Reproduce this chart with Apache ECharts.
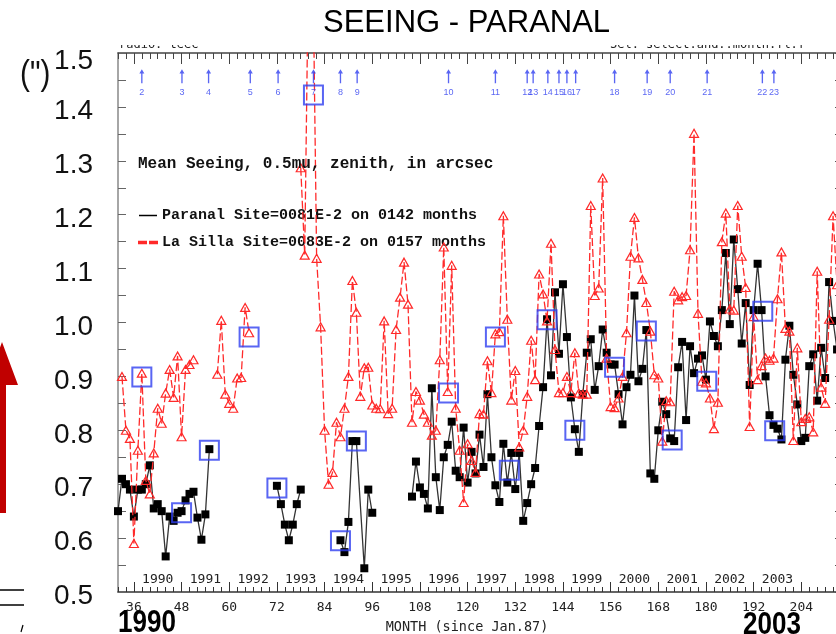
<!DOCTYPE html>
<html>
<head>
<meta charset="utf-8">
<script src="https://cdn.jsdelivr.net/npm/echarts@6/dist/echarts.min.js"></script>
<style>
html,body{margin:0;padding:0;background:#fff;}
#chart{width:836px;height:634px;}
</style>
</head>
<body>
<div id="chart"></div>
<script>
// Monthly mean seeing (arcsec), month counted from Jan. 1987; null = no data that month
const paranalMonths = [
  32,33,34,35,36,37,38,39,40,41,42,43,44,45,46,47,48,49,50,51,52,53,54,55,
  63,
  72,73,74,75,76,77,78,
  83,
  88,89,90,91,92,94,95,96,
  100,
  106,107,108,109,110,111,112,113,114,115,116,117,118,119,120,121,122,123,124,125,
  126,127,128,129,130,131,132,133,134,135,136,137,138,139,140,141,142,143,144,145,
  146,147,148,149,150,151,152,153,154,155,156,157,158,159,160,161,162,163,164,165,
  166,167,168,169,170,171,172,173,174,175,176,177,178,179,180,181,182,183,184,185,
  186,187,188,189,190,191,192,193,194,195,196,197,198,199,200,201,202,203,204,205,
  206,207,208,209,210,211,212,213,214
];
const paranalSeeing = [
  0.65,0.71,0.70,0.69,0.64,0.69,0.69,0.70,0.735,0.655,0.663,0.65,0.566,0.64,0.632,0.647,0.65,0.67,0.682,0.686,0.638,0.597,0.644,0.765,
  null,
  0.697,0.663,0.625,0.596,0.625,0.663,0.69,
  null,
  0.596,0.574,0.63,0.78,0.78,0.544,0.69,0.647,
  null,
  0.677,0.742,0.694,0.682,0.655,0.878,0.713,0.652,0.75,0.773,0.816,0.725,0.713,0.805,0.703,0.76,0.72,0.792,0.732,0.867,
  0.75,0.698,0.667,0.775,0.703,0.758,0.691,0.758,0.632,0.665,0.70,0.73,0.808,0.88,1.006,0.902,1.056,0.942,1.071,0.973,
  0.861,0.802,0.76,0.867,0.944,0.969,0.875,0.919,0.987,0.944,0.922,0.922,0.867,0.811,0.88,0.903,1.05,0.891,0.914,0.986,
  0.72,0.71,0.80,0.853,0.83,0.785,0.78,0.917,0.964,0.819,0.956,0.906,0.933,0.939,0.894,1.002,0.975,0.956,1.023,1.129,
  0.997,1.154,1.062,0.961,1.036,0.884,1.023,1.109,1.023,0.90,0.828,0.81,0.803,0.783,0.931,0.994,0.903,0.848,0.78,0.786,
  0.919,0.941,0.855,0.953,0.897,1.075,1.003,0.95,0.99
];

const laSillaMonths = [
  33,34,35,36,37,38,39,40,41,42,43,44,45,46,47,48,49,50,51,
  54,
  57,58,59,60,61,62,63,64,65,
  70,
  78,79,80,81,82,83,84,85,86,87,88,89,90,91,92,93,94,95,96,97,
  98,99,100,101,102,103,104,105,106,107,108,109,110,111,112,113,114,115,116,117,
  118,119,120,121,122,123,124,125,126,127,128,129,130,131,132,133,134,135,136,137,
  138,139,140,141,142,143,144,145,146,147,148,149,150,151,152,153,154,155,156,157,
  158,159,160,161,162,163,164,165,166,167,168,169,170,171,172,173,174,175,176,177,
  178,179,180,181,182,183,184,185,186,187,188,189,190,191,192,193,194,195,196,197,
  198,199,200,201,202,203,204,205,206,207,208,209,210,211,212,213,214
];
const laSillaSeeing = [
  0.90,0.80,0.785,0.59,0.763,0.906,0.707,0.682,0.758,0.841,0.813,0.869,0.913,0.861,0.938,0.788,0.913,0.922,0.931,
  null,
  0.904,1.004,0.867,0.85,0.841,0.897,0.898,1.028,0.981,
  null,
  1.287,1.125,1.70,1.70,1.119,0.992,0.80,0.70,0.722,0.815,0.788,0.841,0.90,1.078,1.019,0.863,0.916,0.917,0.847,0.841,
  0.84,1.003,0.831,0.841,0.987,1.047,1.112,1.034,0.815,0.872,0.856,0.83,0.815,0.791,0.80,0.931,1.14,0.872,1.106,0.841,
  0.763,0.666,0.775,0.744,0.722,0.831,0.83,0.929,0.87,0.979,0.983,1.198,1.006,0.856,0.911,0.769,0.80,0.863,0.967,0.894,
  1.09,1.053,1.003,1.147,0.95,0.87,0.87,0.90,0.87,0.944,0.869,0.867,0.867,1.217,1.05,1.064,1.268,0.934,0.844,0.842,
  0.86,0.90,0.981,1.123,1.195,1.12,1.08,1.037,0.984,0.903,0.897,0.78,0.855,0.853,1.058,1.042,1.048,1.05,1.135,1.351,
  1.017,0.891,0.888,0.86,0.803,0.852,1.15,1.203,1.025,1.023,1.217,1.123,1.065,0.807,1.011,0.894,0.92,0.934,0.93,0.934,
  1.044,1.131,0.989,0.984,0.781,0.953,0.816,0.822,0.825,0.797,1.095,0.88,0.85,1.006,1.198,1.07,0.95
];

// Numbered events (arrows along the top)
const eventMonths = [38.0,48.1,54.8,65.3,72.3,81.2,88.0,92.2,115.2,127.0,135.0,136.5,140.2,143.0,145.0,147.2,157.0,165.2,171.0,180.3,194.2,197.1];
const eventLabels = ['2','3','4','5','6','7','8','9','10','11','12','13','14','15','16','17','18','19','20','21','22','23'];

// Highlighted months (open blue squares)
const boxMonths = [38,48,55,65,72,81.2,88,92,115.2,127,130.5,140,147,157,165,171.5,180.2,194.3,197.3];
const boxSeeing = [0.899,0.647,0.763,0.973,0.693,1.422,0.595,0.780,0.869,0.973,0.726,1.005,0.80,0.917,0.984,0.782,0.891,1.021,0.799];

const monthTicks = [36,48,60,72,84,96,108,120,132,144,156,168,180,192,204];
const yearMonths = [42,54,66,78,90,102,114,126,138,150,162,174,186,198];
const yearLabels = ['1990','1991','1992','1993','1994','1995','1996','1997','1998','1999','2000','2001','2002','2003'];

const ARROW_LEVEL = 1.457;
const X_MIN = 32, X_MAX = 215;

const pairs = (ms, vs) => ms.map((m, i) => [m, vs[i] === null ? '-' : vs[i]]);

const SANS = "'Liberation Sans',Arial,sans-serif";
const MONO = "'DejaVu Sans Mono',monospace";
const TYPE = "'Liberation Mono','Courier New',monospace";
const RED = '#ff2a2a';
const BLUE = '#2f3ff0';

const chart = echarts.init(document.getElementById('chart'), null, {renderer: 'canvas'});

const baseX = {type: 'value', min: X_MIN, max: X_MAX, splitLine: {show: false}};

chart.setOption({
  animation: false,
  backgroundColor: '#fff',
  title: [
    {
      text: 'SEEING - PARANAL', left: 318, top: 3, z: 20,
      textStyle: {fontFamily: SANS, fontSize: 31, fontWeight: 'normal', color: '#000'}
    },
    {
      text: 'Mean Seeing, 0.5mu, zenith, in arcsec', left: 133, top: 151,
      textStyle: {fontFamily: TYPE, fontSize: 16, fontWeight: 'bold', color: '#111'}
    }
  ],
  legend: {
    orient: 'vertical', left: 138, top: 208, itemGap: 12, padding: 0,
    itemWidth: 18, itemHeight: 2,
    textStyle: {fontFamily: TYPE, fontSize: 15, fontWeight: 'bold', color: '#111'},
    data: [
      {name: 'Paranal Site=0081E-2 on 0142 months', icon: 'path://M0,0 L18,0 L18,1.5 L0,1.5 Z', itemStyle: {color: '#000'}},
      {name: 'La Silla Site=0083E-2 on 0157 months', icon: 'path://M0,0 L7,0 L7,1.5 L0,1.5 Z M11,0 L18,0 L18,1.5 L11,1.5 Z', itemStyle: {color: RED}}
    ]
  },
  grid: {left: 118, top: 53, right: -9, bottom: 42, show: false, outerBoundsMode: 'none'},
  xAxis: [
    Object.assign({}, baseX, {
      position: 'bottom',
      axisLine: {show: true, lineStyle: {color: '#333', width: 1.5}},
      axisTick: {show: true, inside: true, length: 10, customValues: monthTicks, lineStyle: {color: '#333'}},
      axisLabel: {show: true, customValues: monthTicks, margin: 9, fontFamily: MONO, fontSize: 13, color: '#222'},
      name: 'MONTH (since Jan.87)', nameLocation: 'middle', nameGap: 28,
      nameTextStyle: {fontFamily: MONO, fontSize: 13.5, color: '#222', padding: [0, 29, 0, 0]}
    }),
    Object.assign({}, baseX, {
      position: 'bottom', interval: 2,
      axisLine: {show: false},
      axisTick: {show: true, inside: true, length: 5, lineStyle: {color: '#333'}},
      axisLabel: {show: false}
    }),
    Object.assign({}, baseX, {
      position: 'bottom',
      axisLine: {show: false},
      axisTick: {show: false},
      axisLabel: {
        show: true, inside: true, margin: 6, customValues: yearMonths,
        fontFamily: MONO, fontSize: 13, color: '#222',
        formatter: v => yearLabels[yearMonths.indexOf(v)] || ''
      }
    }),
    Object.assign({}, baseX, {
      position: 'top', interval: 2,
      axisLine: {show: true, lineStyle: {color: '#444', width: 1.5}},
      axisTick: {show: true, inside: true, length: 6, lineStyle: {color: '#444'}},
      axisLabel: {show: false}
    }),
    Object.assign({}, baseX, {
      position: 'top',
      axisLine: {show: false},
      axisTick: {show: true, inside: true, length: 11, customValues: monthTicks, lineStyle: {color: '#444'}},
      axisLabel: {show: false}
    })
  ],
  yAxis: [
    {
      type: 'value', position: 'left', min: 0.5, max: 1.5, interval: 0.1,
      splitLine: {show: false},
      axisLine: {show: true, lineStyle: {color: '#888', width: 1.5}},
      axisTick: {show: true, inside: true, length: 8, lineStyle: {color: '#666'}},
      minorTick: {show: true, splitNumber: 2, length: 8, lineStyle: {color: '#666'}},
      axisLabel: {
        show: true, margin: 25, fontFamily: SANS, fontSize: 28, color: '#111',
        padding: [9, 0, 0, 0],
        formatter: v => (Math.abs(v - 1.5) < 1e-6 ? '{top|1.5}' : v.toFixed(1)),
        rich: {top: {fontFamily: SANS, fontSize: 28, color: '#111', padding: [8, 0, 0, 0]}}
      }
    },
    {
      type: 'value', position: 'right', min: 0.5, max: 1.5, interval: 0.1,
      splitLine: {show: false},
      axisLine: {show: true, lineStyle: {color: '#666'}},
      axisTick: {show: true, inside: true, length: 10, lineStyle: {color: '#555'}},
      minorTick: {show: true, splitNumber: 2, length: 10, lineStyle: {color: '#555'}},
      axisLabel: {show: false}
    }
  ],
  series: [
    {
      name: 'Paranal Site=0081E-2 on 0142 months',
      type: 'line', xAxisIndex: 0, yAxisIndex: 0,
      data: pairs(paranalMonths, paranalSeeing),
      showSymbol: true, showAllSymbol: true,
      symbol: 'rect', symbolSize: 8,
      itemStyle: {color: '#000'},
      lineStyle: {color: '#333', width: 1.3},
      connectNulls: false, clip: true, z: 3
    },
    {
      name: 'La Silla Site=0083E-2 on 0157 months',
      type: 'line', xAxisIndex: 0, yAxisIndex: 0,
      data: pairs(laSillaMonths, laSillaSeeing),
      showSymbol: true, showAllSymbol: true,
      symbol: 'triangle', symbolSize: [9, 8],
      itemStyle: {color: 'rgba(255,255,255,0)', borderColor: RED, borderWidth: 1.2},
      lineStyle: {color: RED, width: 1.3, type: [8, 3]},
      connectNulls: false, clip: true, z: 4
    },
    {
      name: 'events',
      type: 'scatter', xAxisIndex: 0, yAxisIndex: 0,
      data: eventMonths.map((m, i) => ({value: [m, ARROW_LEVEL], name: eventLabels[i]})),
      symbol: 'path://M3,0 L6,5 L3.8,5 L3.8,16 L2.2,16 L2.2,5 L0,5 Z',
      symbolSize: [5, 14],
      itemStyle: {color: BLUE},
      label: {show: true, position: 'bottom', distance: 5, formatter: '{b}',
        fontFamily: SANS, fontSize: 9, color: BLUE},
      z: 5
    },
    {
      name: 'highlights',
      type: 'scatter', xAxisIndex: 0, yAxisIndex: 0,
      data: boxMonths.map((m, i) => [m, boxSeeing[i]]),
      symbol: 'rect', symbolSize: 19,
      itemStyle: {color: 'rgba(0,0,0,0)', borderColor: BLUE, borderWidth: 2},
      z: 6
    }
  ],
  graphic: [
    {type: 'text', x: 119, y: 39, z: 1,
      style: {text: 'radio: teec', font: "12px 'DejaVu Sans Mono'", fill: '#222'}},
    {type: 'text', x: 610, y: 39, z: 1,
      style: {text: 'Sel: select.and.:month.fl.f', font: "12px 'DejaVu Sans Mono'", fill: '#222'}},
    {type: 'rect', shape: {x: 0, y: 0, width: 836, height: 45}, style: {fill: '#fff'}, z: 10},
    {type: 'text', x: 20, y: 58, scaleX: 0.85, z: 12,
      style: {text: '(")', font: "35px 'Liberation Sans'", fill: '#111'}},
    {type: 'polygon', z: 12,
      shape: {points: [[2, 342], [18, 385], [6, 385], [6, 513], [-10, 513], [-10, 385], [-14, 385]]},
      style: {fill: '#c00000'}},
    {type: 'line', z: 12, shape: {x1: 0, y1: 590, x2: 24, y2: 590}, style: {stroke: '#000', lineWidth: 1.5}},
    {type: 'line', z: 12, shape: {x1: 0, y1: 605, x2: 24, y2: 605}, style: {stroke: '#000', lineWidth: 1.5}},
    {type: 'line', z: 12, shape: {x1: 21, y1: 632, x2: 23, y2: 625}, style: {stroke: '#000', lineWidth: 1.2}},
    {type: 'text', x: 118, y: 608, scaleX: 0.84, z: 12,
      style: {text: '1990', font: "bold 31px 'Liberation Sans'", fill: '#000'}},
    {type: 'text', x: 743, y: 610, scaleX: 0.84, z: 12,
      style: {text: '2003', font: "bold 31px 'Liberation Sans'", fill: '#000'}}
  ]
});
</script>
</body>
</html>
